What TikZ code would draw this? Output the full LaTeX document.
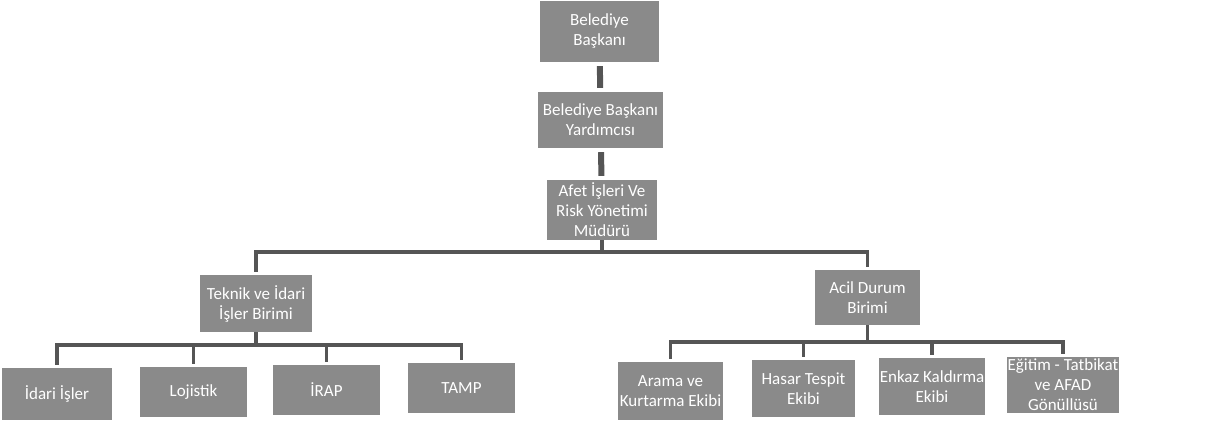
\documentclass[tikz,border=0pt]{standalone}
\usepackage{fontspec}
\setmainfont{Carlito}
\definecolor{boxgray}{RGB}{138,138,138}
\definecolor{linegray}{RGB}{85,85,85}

\begin{document}
\begin{tikzpicture}[x=1pt, y=-1pt,
  unit/.style={rectangle, fill=boxgray, text=white, align=center,
    inner sep=1pt, font=\fontsize{17}{20}\selectfont},
  link/.style={draw=linegray, line width=3.5pt, shorten >=3pt},
  trunk/.style={draw=linegray, line width=6pt, shorten >=4pt, shorten <=4pt}]
  \useasboundingbox (0,0) rectangle (1211,432);

  % ust kademe
  \node[unit, minimum width=119pt, minimum height=61pt] (baskan) at (599.5,31.5) {Belediye\\Başkanı};
  \node[unit, minimum width=125pt, minimum height=56pt] (yardimci) at (600.5,120) {Belediye Başkanı\\Yardımcısı};
  \node[unit, minimum width=110pt, minimum height=60pt] (afet) at (602,210) {Afet İşleri Ve\\Risk Yönetimi\\Müdürü};

  % birimler
  \node[unit, minimum width=112pt, minimum height=57pt] (teknik) at (256,303.5) {Teknik ve İdari\\İşler Birimi};
  \node[unit, minimum width=105pt, minimum height=55pt] (acil) at (867.5,297.5) {Acil Durum\\Birimi};

  % alt birimler
  \node[unit, minimum width=110pt, minimum height=52pt] (idari) at (57,394) {İdari İşler};
  \node[unit, minimum width=107pt, minimum height=50pt] (lojistik) at (193.5,392) {Lojistik};
  \node[unit, minimum width=107pt, minimum height=50pt] (irap) at (326.5,390) {İRAP};
  \node[unit, minimum width=107pt, minimum height=50pt] (tamp) at (461.5,388) {TAMP};
  \node[unit, minimum width=105pt, minimum height=58pt] (arama) at (670.5,391) {Arama ve\\Kurtarma Ekibi};
  \node[unit, minimum width=103pt, minimum height=57pt] (hasar) at (803.5,388.5) {Hasar Tespit\\Ekibi};
  \node[unit, minimum width=100pt, minimum height=57pt] (enkaz) at (932,386.5) {Enkaz Kaldırma\\Ekibi};
  \node[unit, minimum width=100pt, minimum height=56pt] (egitim) at (1063,385) {Eğitim - Tatbikat\\ve AFAD\\Gönüllüsü};

  \draw[trunk] (baskan) -- (yardimci);
  \draw[trunk] (yardimci) -- (afet);

  \foreach \b in {teknik,acil}
    \draw[link] (afet.south) -- ++(0,12) -| (\b.north);
  \foreach \b in {idari,lojistik,irap,tamp}
    \draw[link] (teknik.south) -- ++(0,13) -| (\b.north);
  \foreach \b in {arama,hasar,enkaz,egitim}
    \draw[link] (acil.south) -- ++(0,17) -| (\b.north);
\end{tikzpicture}
\end{document}
